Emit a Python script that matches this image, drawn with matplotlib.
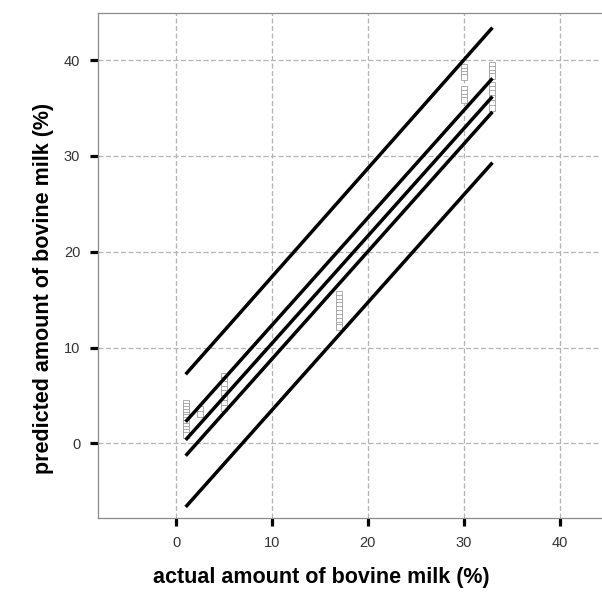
import matplotlib
matplotlib.use("Agg")
import matplotlib.pyplot as plt

# observed points (actual %, predicted %)
pts_x = ([1] * 12 + [2.5] * 2 + [5] * 8 + [17] * 10 + [30] * 8 + [33] * 10)
pts_y = [4.2, 3.9, 3.6, 3.3, 3.0, 2.7, 2.4, 2.1, 1.8, 1.5, 1.2, 0.9,
         3.6, 3.1,
         7.0, 6.6, 6.2, 5.7, 5.2, 4.7, 4.2, 3.7,
         15.6, 15.2, 14.8, 14.4, 14.0, 13.6, 13.2, 12.8, 12.4, 12.1,
         39.3, 38.9, 38.5, 38.2, 37.0, 36.6, 36.2, 35.8,
         39.5, 39.1, 38.7, 38.3, 37.4, 37.0, 36.6, 36.0, 35.5, 35.0]

# fit line, confidence and prediction bands (values at x = 1 and x = 33)
line_x = [1, 33]
pred_upper = [7.2, 43.4]
ci_upper = [2.25, 38.1]
fit = [0.35, 36.2]
ci_lower = [-1.3, 34.6]
pred_lower = [-6.65, 29.3]

ticks = [0, 10, 20, 30, 40]

plt.rcParams["font.family"] = ["Liberation Sans", "DejaVu Sans"]

fig = plt.figure(figsize=(6.02, 5.99), dpi=100)
ax = fig.add_axes([0.1633, 0.1352, 0.8357, 0.8436])

ax.set_xlim(-8.11, 44.36)
ax.set_ylim(-7.8, 44.95)

for yy in (pred_upper, ci_upper, fit, ci_lower, pred_lower):
    ax.plot(line_x, yy, color="black", lw=2.5, solid_capstyle="butt", zorder=3)

ax.plot(pts_x, pts_y, ls="none", marker="s", markersize=4.2,
        markerfacecolor="white", markeredgecolor="#a0a0a0",
        markeredgewidth=0.6, zorder=2)

ax.set_xticks(ticks)
ax.set_yticks(ticks)
ax.grid(True, color="#b4b4b4", lw=0.9, ls=(0, (4, 2)), zorder=0)
ax.tick_params(direction="out", length=6, width=2.3, color="black",
               labelsize=10.5, labelcolor="#333333", pad=7)

for side, sp in ax.spines.items():
    sp.set_color("#8a8a8a")
    sp.set_linewidth(0.9)
ax.spines["right"].set_visible(False)

ax.set_xlabel("actual amount of bovine milk (%)", fontsize=15.5, fontweight="bold")
ax.set_ylabel("predicted amount of bovine milk (%)", fontsize=15.5, fontweight="bold")
ax.xaxis.label.set_va("center")
ax.yaxis.label.set_va("center")
ax.xaxis.set_label_coords(0.443, -0.1187)
ax.yaxis.set_label_coords(-0.108, 0.455)

fig.savefig("out.png", dpi=100, facecolor="white")
